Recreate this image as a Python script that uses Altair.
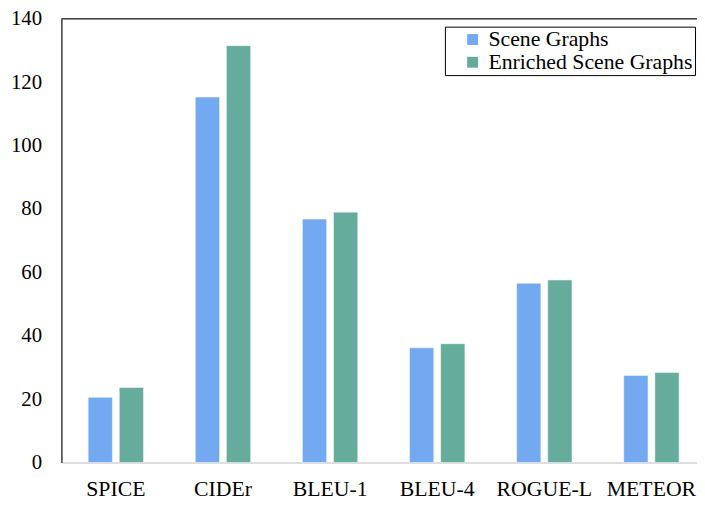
import altair as alt
import pandas as pd

metrics = ["SPICE", "CIDEr", "BLEU-1", "BLEU-4", "ROGUE-L", "METEOR"]
series = ["Scene Graphs", "Enriched Scene Graphs"]
scene_graphs = [20.6, 115.3, 76.8, 36.2, 56.6, 27.5]
enriched = [23.7, 131.5, 79.0, 37.5, 57.6, 28.4]
colors = ["#73A9F0", "#66AC9D"]
y_ticks = [0, 20, 40, 60, 80, 100, 120, 140]

rows = []
for m, a, b in zip(metrics, scene_graphs, enriched):
    rows.append({"metric": m, "series": series[0], "value": a})
    rows.append({"metric": m, "series": series[1], "value": b})
df = pd.DataFrame(rows)

FONT = "Liberation Serif"

bars = alt.Chart(df).mark_bar(stroke="white", strokeWidth=1, strokeOpacity=0.5).encode(
    x=alt.X("metric:N", sort=metrics,
            scale=alt.Scale(paddingInner=0.483, paddingOuter=0.25, range=[0, 652]),
            axis=alt.Axis(title=None, labelAngle=0, ticks=False, domainColor="#d9d9d9",
                          domainWidth=1.5, labelPadding=16, labelFontSize=22,
                          labelFont=FONT, labelColor="black", labelLimit=0)),
    xOffset=alt.XOffset("series:N", sort=series,
                        scale=alt.Scale(paddingInner=0.22, paddingOuter=0)),
    y=alt.Y("value:Q", scale=alt.Scale(domain=[0, 140], nice=False),
            axis=alt.Axis(title=None, values=y_ticks, grid=False, ticks=False,
                          domainColor="#404040", domainWidth=1.5, labelPadding=20,
                          labelFontSize=21, labelFont=FONT, labelColor="black")),
    color=alt.Color("series:N", sort=series,
                    scale=alt.Scale(domain=series, range=colors),
                    legend=alt.Legend(title=None, orient="none", legendX=388, legendY=8,
                                      symbolType="square", symbolSize=121,
                                      symbolStrokeWidth=0,
                                      labelFont=FONT, labelFontSize=22, labelColor="black",
                                      labelLimit=0,
                                      strokeColor="black", padding=2, symbolOffset=15,
                                      rowPadding=1, labelOffset=5)),
)

top_line = alt.Chart(pd.DataFrame({"y": [140]})).mark_rule(color="#404040", strokeWidth=1.5).encode(
    y=alt.Y("y:Q"), x=alt.value(0), x2=alt.value(652)
)

chart = alt.layer(bars, top_line).properties(
    width=643, height=449,
    autosize=alt.AutoSizeParams(type="none"),
    padding={"left": 54, "top": 8, "right": 0, "bottom": 39},
).configure_view(stroke=None).configure(background="white")

chart.save("out.html", embed_options={"renderer": "svg", "actions": False})
